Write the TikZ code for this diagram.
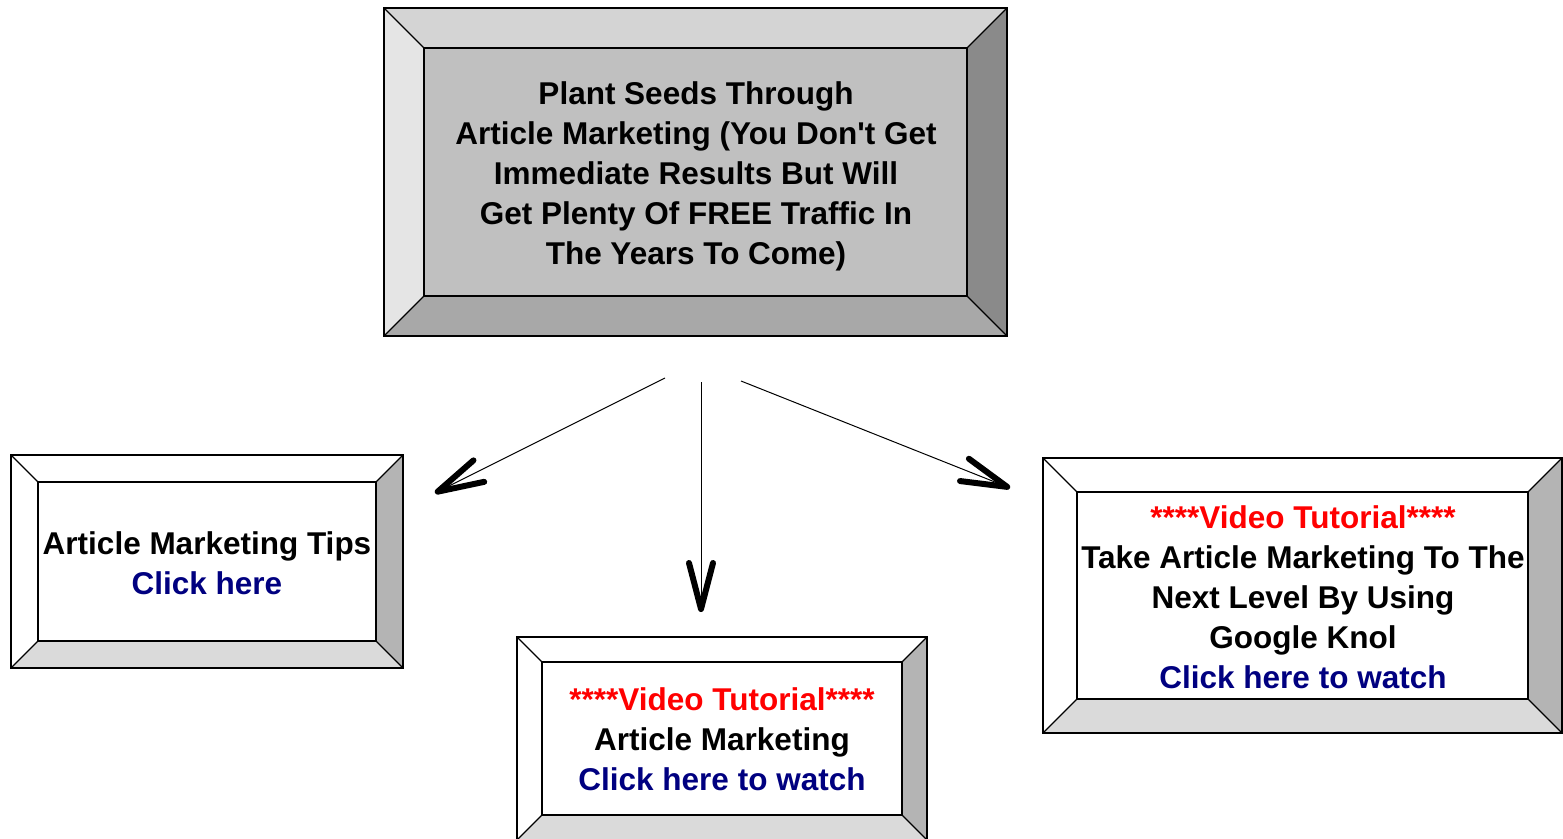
\documentclass[tikz,border=0pt]{standalone}
\usepackage{fontspec}
\setmainfont{Liberation Sans}
\usetikzlibrary{arrows.meta}

% bevel shades: T top, L left, R right, B bottom, C centre
\definecolor{greyT}{RGB}{212,212,212}
\definecolor{greyL}{RGB}{229,229,229}
\definecolor{greyR}{RGB}{138,138,138}
\definecolor{greyB}{RGB}{168,168,168}
\definecolor{greyC}{RGB}{192,192,192}
\definecolor{whiteT}{RGB}{255,255,255}
\definecolor{whiteL}{RGB}{255,255,255}
\definecolor{whiteR}{RGB}{180,180,180}
\definecolor{whiteB}{RGB}{218,218,218}
\definecolor{whiteC}{RGB}{255,255,255}
\definecolor{vidred}{RGB}{255,0,0}
\definecolor{linkblue}{RGB}{0,0,128}

% x1 y1 x2 y2 bevel shades
\newcommand{\bevelbox}[6]{%
  \fill[#6T] (#1,#2) -- (#3,#2) -- (#3-#5,#2+#5) -- (#1+#5,#2+#5) -- cycle;
  \fill[#6L] (#1,#2) -- (#1+#5,#2+#5) -- (#1+#5,#4-#5) -- (#1,#4) -- cycle;
  \fill[#6R] (#3,#2) -- (#3,#4) -- (#3-#5,#4-#5) -- (#3-#5,#2+#5) -- cycle;
  \fill[#6B] (#1,#4) -- (#1+#5,#4-#5) -- (#3-#5,#4-#5) -- (#3,#4) -- cycle;
  \fill[#6C] (#1+#5,#2+#5) rectangle (#3-#5,#4-#5);
  \draw[edge] (#1,#2) rectangle (#3,#4);
  \draw[edge] (#1+#5,#2+#5) rectangle (#3-#5,#4-#5);
  \draw[edge] (#1,#2) -- (#1+#5,#2+#5) (#3,#2) -- (#3-#5,#2+#5)
              (#1,#4) -- (#1+#5,#4-#5) (#3,#4) -- (#3-#5,#4-#5);
}

\begin{document}
\begin{tikzpicture}[x=1pt,y=-1pt,
    edge/.style={line width=1.2pt},
    boxtext/.style={font=\bfseries\fontsize{31.5}{40}\selectfont, align=center, inner sep=0pt},
    arr/.style={line width=1pt, -{Straight Barb[length=46pt,width=24pt,line width=6pt,round]}}]
    \fill[white] (0,0) rectangle (1563,838);
    \useasboundingbox (0,0) rectangle (1563,838);

    \bevelbox{384}{8}{1007}{336}{40}{grey}
    \bevelbox{11}{455}{403}{668}{27}{white}
    \bevelbox{517}{637}{927}{840}{25}{white}
    \bevelbox{1043}{458}{1562}{733}{34}{white}

    \node[boxtext] (seeds) at (696,176) {Plant Seeds Through\\
        Article Marketing (You Don\textquotesingle t Get\\
        Immediate Results But Will\\
        Get Plenty Of FREE Traffic In\\
        The Years To Come)};
    \node[boxtext] (tips) at (207,563) {Article Marketing Tips\\
        \textcolor{linkblue}{Click here}};
    \node[boxtext] (video) at (722,739) {\textcolor{vidred}{****Video Tutorial****}\\
        Article Marketing\\
        \textcolor{linkblue}{Click here to watch}};
    \node[boxtext] (knol) at (1303,597) {\textcolor{vidred}{****Video Tutorial****}\\
        Take Article Marketing To The\\
        Next Level By Using\\
        Google Knol\\
        \textcolor{linkblue}{Click here to watch}};

    \coordinate (s1) at (665,378);
    \coordinate (s2) at (701,382);
    \coordinate (s3) at (741,381);
    \coordinate (e1) at (435,493);
    \coordinate (e2) at (701,612);
    \coordinate (e3) at (1010,488);
    \draw[arr] (s1) -- (e1);
    \draw[arr] (s2) -- (e2);
    \draw[arr] (s3) -- (e3);
\end{tikzpicture}
\end{document}
